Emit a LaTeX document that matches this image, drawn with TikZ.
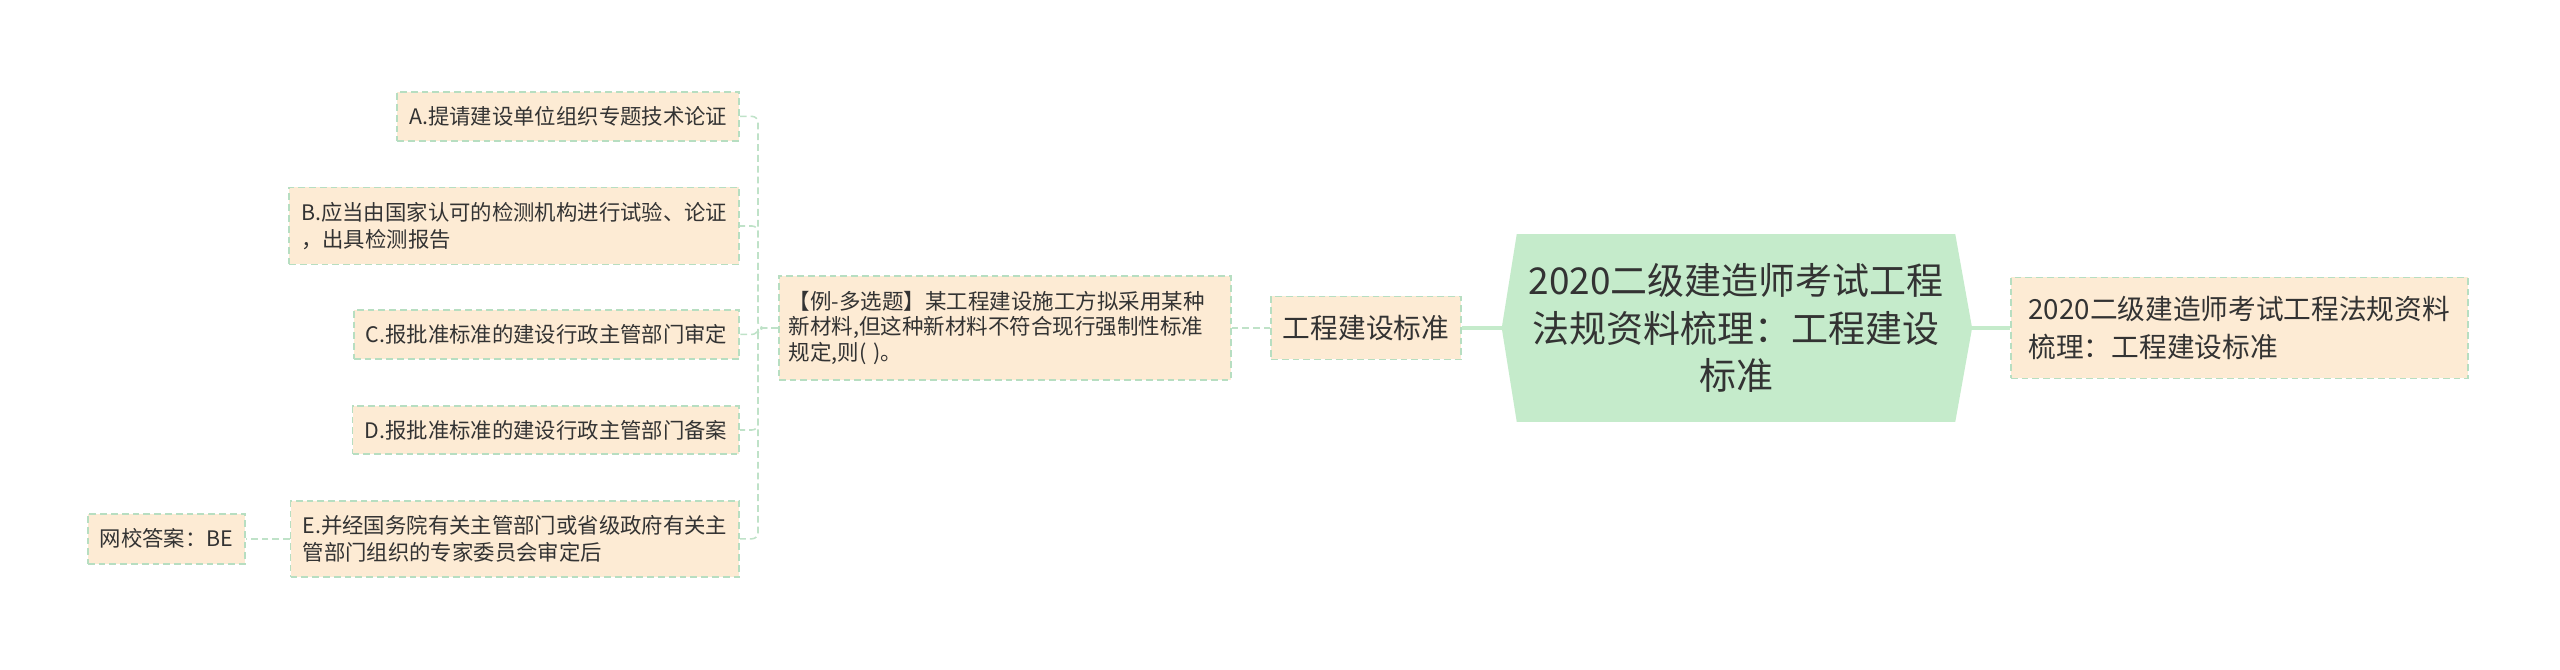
\documentclass[tikz,border=0pt]{standalone}
\usepackage{fontspec}
\setmainfont{Noto Sans CJK SC}
\usepackage{xcolor}
\usetikzlibrary{backgrounds}
\definecolor{boxF}{HTML}{FDEBD4}
\definecolor{borderG}{HTML}{B7DEC1}
\definecolor{linkG}{HTML}{BFE2C8}
\definecolor{mainF}{HTML}{C5EBCB}
\definecolor{txtC}{HTML}{333333}
\tikzset{
  >=latex,
}
\tikzstyle{every node}=[text=txtC]
\tikzstyle{leaf}=[draw=borderG,fill=boxF,line width=1.1pt,dash pattern=on 0.17cm off 0.1cm,
  inner xsep=0.3cm,inner ysep=0.1cm,align=left,font=\fontsize{15.2}{19.2}\selectfont]
\tikzstyle{topicfont}=[font=\fontsize{19.7}{27}\selectfont]
\tikzstyle{link}=[draw=linkG,line width=1.1pt,dash pattern=on 0.17cm off 0.1cm,rounded corners=0.15cm]
\tikzstyle{trunk}=[draw=mainF,line width=2.4pt]

\begin{document}
\begin{tikzpicture}
    \useasboundingbox (0,0) rectangle (64,16.75);
    % centre
    \node[font=\fontsize{26.3}{33.8}\selectfont,align=center,
      minimum width=10.95cm,minimum height=4.675cm] (main) at (43.4,8.55)
      {2020二级建造师考试工程\\法规资料梳理：工程建设\\标准};
    \coordinate (mainL) at ([xshift=-0.375cm]main.west);
    \coordinate (mainR) at ([xshift=0.42cm]main.east);
    \begin{scope}[on background layer]
      \fill[mainF] (main.north west) -- (main.north east) -- (mainR)
        -- (main.south east) -- (main.south west) -- (mainL) -- cycle;
    \end{scope}
    \node[leaf,topicfont,anchor=west,minimum width=11.425cm,minimum height=2.525cm] (sum)
      at (50.25,8.55) {2020二级建造师考试工程法规资料\\梳理：工程建设标准};
    \node[leaf,topicfont,minimum height=1.575cm] (std) at (34.15,8.55) {工程建设标准};
    \node[leaf,font=\fontsize{15.3}{18.4}\selectfont,anchor=west,text width=10.8cm,
      inner xsep=0.25cm,minimum height=2.6cm] (q) at (19.45,8.55)
      {【例-多选题】某工程建设施工方拟采用某种\\新材料,但这种新材料不符合现行强制性标准\\规定,则( )。};
    % options
    \node[leaf,anchor=east,minimum height=1.225cm] (optA) at (18.5,13.84)
      {A.提请建设单位组织专题技术论证};
    \node[leaf,anchor=east,minimum height=1.925cm] (optB) at (18.5,11.10)
      {B.应当由国家认可的检测机构进行试验、论证\\，出具检测报告};
    \node[leaf,anchor=east,minimum height=1.225cm] (optC) at (18.5,8.39)
      {C.报批准标准的建设行政主管部门审定};
    \node[leaf,anchor=east,minimum height=1.2cm] (optD) at (18.5,6.0)
      {D.报批准标准的建设行政主管部门备案};
    \node[leaf,anchor=east,minimum height=1.9cm] (optE) at (18.5,3.28)
      {E.并经国务院有关主管部门或省级政府有关主\\管部门组织的专家委员会审定后};
    \node[leaf,anchor=east,minimum height=1.25cm] (ans) at (6.15,3.28) {网校答案：BE};
    % connectors
    \draw[trunk] (std) -- (mainL);
    \draw[trunk] (mainR) -- (sum);
    \draw[link] (q) -- (std);
    \foreach \n in {optA,optB,optC,optD,optE}
      \draw[link] (q.west) -- ++(-0.5,0) |- (\n.east);
    \draw[link] (optE) -- (ans);
  \end{tikzpicture}
\end{document}
